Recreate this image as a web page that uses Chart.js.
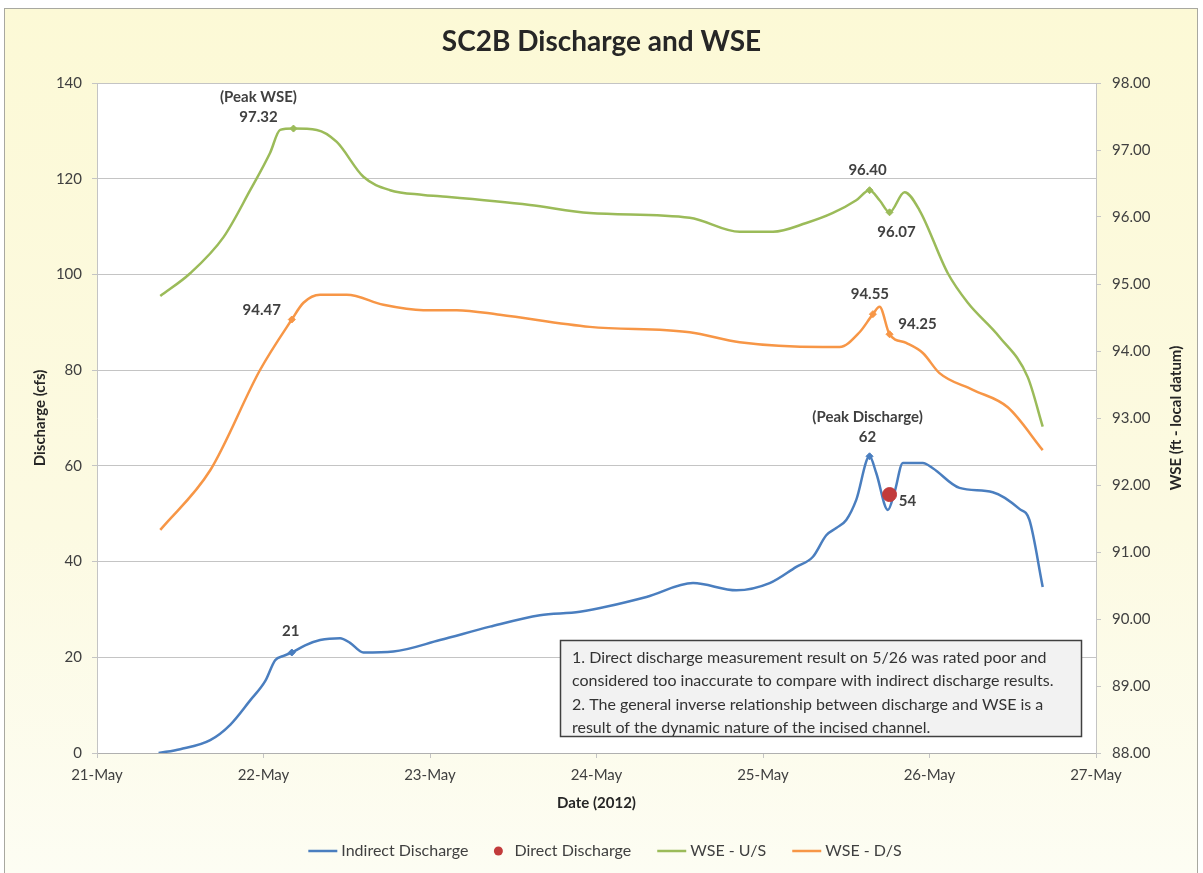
<!DOCTYPE html>
<html>
<head>
<meta charset="utf-8">
<title>SC2B Discharge and WSE</title>
<script src="https://cdn.jsdelivr.net/npm/chart.js@4.4.1/dist/chart.umd.min.js"></script>
<style>
  html, body { margin: 0; padding: 0; background: #ffffff; }
  canvas { display: block; }
</style>
</head>
<body>
<canvas id="chart" width="1203" height="873"></canvas>
<script>
// x values are days after 21-May-2012
const dayLabels = ["21-May", "22-May", "23-May", "24-May", "25-May", "26-May", "27-May"];

const indirectDays = [0.37, 0.50, 0.68, 0.80, 0.92, 1.01, 1.07, 1.12, 1.17, 1.25, 1.34, 1.46, 1.52, 1.60, 1.78,
  2.06, 2.36, 2.66, 2.90, 3.30, 3.58, 3.84, 4.04, 4.20, 4.30, 4.38, 4.44, 4.50, 4.56, 4.64, 4.68, 4.75, 4.79,
  4.84, 4.96, 5.02, 5.18, 5.38, 5.54, 5.60, 5.68];
const indirectCfs = [0, 0.8, 2.7, 5.9, 11, 15, 19.4, 20.3, 21, 22.5, 23.6, 24, 23, 21, 21.2,
  23.6, 26.4, 28.8, 29.5, 32.6, 35.5, 34, 35.5, 38.9, 41, 45.5, 47, 48.7, 52.9, 62, 58.5, 50.8, 54.5,
  60.6, 60.6, 59.5, 55.4, 54.5, 51, 48.7, 34.7];

const directDays = [4.76];
const directCfs = [54];

const wseUpDays = [0.38, 0.56, 0.76, 0.92, 1.04, 1.10, 1.18, 1.32, 1.44, 1.60, 1.76, 1.96, 2.06, 2.60, 2.96,
  3.56, 3.86, 4.06, 4.26, 4.42, 4.56, 4.64, 4.70, 4.76, 4.85, 4.94, 5.11, 5.23, 5.42, 5.59, 5.68];
const wseUpFt = [94.82, 95.16, 95.70, 96.40, 96.96, 97.30, 97.32, 97.30, 97.12, 96.60, 96.40, 96.33, 96.31, 96.18, 96.06,
  95.99, 95.78, 95.78, 95.91, 96.06, 96.25, 96.40, 96.25, 96.07, 96.37, 96.10, 95.16, 94.72, 94.21, 93.61, 92.87];

const wseDownDays = [0.38, 0.68, 0.98, 1.17, 1.24, 1.34, 1.50, 1.72, 1.96, 2.16, 2.42, 2.96, 3.56, 3.86, 4.36,
  4.46, 4.58, 4.66, 4.70, 4.76, 4.86, 4.96, 5.06, 5.26, 5.47, 5.68];
const wseDownFt = [91.33, 92.22, 93.72, 94.47, 94.72, 94.84, 94.84, 94.69, 94.61, 94.61, 94.54, 94.36, 94.28, 94.13, 94.06,
  94.06, 94.28, 94.55, 94.66, 94.25, 94.12, 93.97, 93.67, 93.42, 93.16, 92.52];

// labelled points
const indirectMarkDays = [1.17, 4.64];
const indirectMarkCfs = [21, 62];
const indirectMarkNotes = ["", "(Peak Discharge)"];
const wseUpMarkDays = [1.18, 4.64, 4.76];
const wseUpMarkFt = [97.32, 96.40, 96.07];
const wseUpMarkNotes = ["(Peak WSE)", "", ""];
const wseDownMarkDays = [1.17, 4.66, 4.76];
const wseDownMarkFt = [94.47, 94.55, 94.25];

const noteLines = [
  "1. Direct discharge measurement result on 5/26 was rated poor and",
  "considered too inaccurate to compare with indirect discharge results.",
  "2. The general inverse relationship between discharge and WSE is a",
  "result of the dynamic nature of the incised channel."
];

const FONT = "Lato, 'Open Sans', sans-serif";
const TEXT = "#404040";
const GRID = "#c4c4c4";
const BLUE = "#4a7ebf";
const RED = "#c23b3b";
const GREEN = "#9bbb59";
const ORANGE = "#f79646";

const pts = (xs, ys) => xs.map((x, i) => ({ x, y: ys[i] }));

// label offsets from each labelled point, in px: [dx, dy] for value, caption sits one line above
const markOffsets = {
  4: [[-1, -21], [-2, -19]],
  5: [[-35, -11], [-2, -20], [7, 20]],
  6: [[-30, -9], [-3, -20], [28, -10]],
  1: [[18, 7]]
};

const backgroundPlugin = {
  id: "frame",
  beforeDraw(chart) {
    const { ctx, chartArea: a } = chart;
    ctx.save();
    const g = ctx.createLinearGradient(0, 8, 0, 873);
    g.addColorStop(0, "#fcf9d6");
    g.addColorStop(0.6, "#fcfae2");
    g.addColorStop(1, "#fdfdf3");
    ctx.fillStyle = g;
    ctx.fillRect(4, 8, 1194, 865);
    ctx.strokeStyle = "#a8a8a0";
    ctx.lineWidth = 1;
    ctx.strokeRect(4.5, 8.5, 1193, 866);
    ctx.fillStyle = "#ffffff";
    ctx.fillRect(a.left, a.top, a.right - a.left, a.bottom - a.top);
    ctx.restore();
  }
};

const labelsPlugin = {
  id: "markLabels",
  afterDatasetsDraw(chart) {
    const { ctx } = chart;
    ctx.save();
    ctx.font = "bold 15px " + FONT;
    ctx.fillStyle = TEXT;
    ctx.textAlign = "center";
    ctx.textBaseline = "middle";
    Object.keys(markOffsets).forEach((k) => {
      const idx = Number(k);
      const ds = chart.data.datasets[idx];
      const meta = chart.getDatasetMeta(idx);
      meta.data.forEach((el, i) => {
        const [dx, dy] = markOffsets[k][i];
        const v = ds.data[i].y;
        const text = ds.yAxisID === "y2" ? v.toFixed(2) : String(v);
        ctx.fillText(text, el.x + dx, el.y + dy);
        const note = ds.notes ? ds.notes[i] : "";
        if (note) ctx.fillText(note, el.x + dx, el.y + dy - 20);
      });
    });
    ctx.restore();
  },
  afterDraw(chart) {
    const { ctx, chartArea: a } = chart;
    ctx.save();

    // right axis title reads bottom to top
    ctx.font = "bold 15px " + FONT;
    ctx.fillStyle = "#262626";
    ctx.textAlign = "center";
    ctx.textBaseline = "middle";
    ctx.translate(1176, (a.top + a.bottom) / 2);
    ctx.rotate(-Math.PI / 2);
    ctx.fillText("WSE (ft - local datum)", 0, 0);
    ctx.setTransform(1, 0, 0, 1, 0, 0);

    // note box
    ctx.fillStyle = "#f2f2f2";
    ctx.fillRect(560, 640, 522, 97);
    ctx.strokeStyle = "#404040";
    ctx.lineWidth = 1.5;
    ctx.strokeRect(560.5, 640.5, 521, 96);
    ctx.font = "16px " + FONT;
    ctx.fillStyle = "#333333";
    ctx.textAlign = "left";
    noteLines.forEach((t, i) => ctx.fillText(t, 572, 658 + i * 23.3));

    // legend
    const items = chart.data.datasets.slice(0, 4).map((ds) => ({
      text: ds.label, color: ds.borderColor || ds.backgroundColor, dot: ds.showLine === false
    }));
    ctx.font = "16px " + FONT;
    const widths = items.map((it) => (it.dot ? 20 : 33) + ctx.measureText(it.text).width);
    const gap = 26;
    const total = widths.reduce((s, w) => s + w, 0) + gap * (items.length - 1);
    let x = 605 - total / 2;
    const y = 851;
    items.forEach((it, i) => {
      if (it.dot) {
        ctx.fillStyle = RED;
        ctx.beginPath();
        ctx.arc(x + 4, y, 4.5, 0, Math.PI * 2);
        ctx.fill();
        ctx.fillStyle = TEXT;
        ctx.fillText(it.text, x + 20, y);
      } else {
        ctx.strokeStyle = it.color;
        ctx.lineWidth = 2.5;
        ctx.beginPath();
        ctx.moveTo(x, y);
        ctx.lineTo(x + 29, y);
        ctx.stroke();
        ctx.fillStyle = TEXT;
        ctx.fillText(it.text, x + 33, y);
      }
      x += widths[i] + gap;
    });
    ctx.restore();
  }
};

const lineStyle = (color) => ({
  borderColor: color,
  backgroundColor: color,
  borderWidth: 2.5,
  pointRadius: 0,
  cubicInterpolationMode: "monotone",
  fill: false
});

const markStyle = (color) => ({
  type: "scatter",
  showLine: false,
  pointStyle: "rectRot",
  pointRadius: 3.5,
  backgroundColor: color,
  borderColor: color
});

new Chart(document.getElementById("chart"), {
  type: "line",
  plugins: [backgroundPlugin, labelsPlugin],
  data: {
    datasets: [
      { label: "Indirect Discharge", data: pts(indirectDays, indirectCfs), yAxisID: "y", order: 2, ...lineStyle(BLUE) },
      {
        label: "Direct Discharge", type: "scatter", data: pts(directDays, directCfs), yAxisID: "y", order: 0,
        showLine: false, pointRadius: 7, backgroundColor: RED, borderColor: RED
      },
      { label: "WSE - U/S", data: pts(wseUpDays, wseUpFt), yAxisID: "y2", order: 3, ...lineStyle(GREEN) },
      { label: "WSE - D/S", data: pts(wseDownDays, wseDownFt), yAxisID: "y2", order: 4, ...lineStyle(ORANGE) },
      { label: "", data: pts(indirectMarkDays, indirectMarkCfs), yAxisID: "y", order: 1, notes: indirectMarkNotes, ...markStyle(BLUE) },
      { label: "", data: pts(wseUpMarkDays, wseUpMarkFt), yAxisID: "y2", order: 1, notes: wseUpMarkNotes, ...markStyle(GREEN) },
      { label: "", data: pts(wseDownMarkDays, wseDownMarkFt), yAxisID: "y2", order: 1, ...markStyle(ORANGE) }
    ]
  },
  options: {
    responsive: false,
    animation: false,
    layout: { padding: { top: 8, left: 0, right: 0, bottom: 0 } },
    plugins: {
      legend: { display: false },
      tooltip: { enabled: false },
      title: {
        display: true,
        text: "SC2B Discharge and WSE",
        color: "#262626",
        font: { family: FONT, size: 28, weight: "bold" },
        padding: { top: 17, bottom: 24.4 }
      }
    },
    scales: {
      x: {
        type: "linear",
        min: 0,
        max: 6,
        afterFit: (s) => { s.height = 120; },
        ticks: {
          stepSize: 1,
          maxRotation: 0,
          padding: 8,
          color: TEXT,
          font: { family: FONT, size: 15 },
          callback: (v) => dayLabels[v]
        },
        grid: { drawOnChartArea: false, tickLength: 5, color: GRID },
        border: { color: "#b0b0b0" },
        title: {
          display: true,
          text: "Date (2012)",
          color: "#262626",
          font: { family: FONT, size: 15, weight: "bold" },
          padding: { top: 0, bottom: 61 }
        }
      },
      y: {
        position: "left",
        min: 0,
        max: 140,
        afterFit: (s) => { s.width = 97; },
        ticks: { stepSize: 20, padding: 10, color: TEXT, font: { family: FONT, size: 15 } },
        grid: { color: GRID, tickLength: 5 },
        border: { color: GRID },
        title: {
          display: true,
          text: "Discharge (cfs)",
          color: "#262626",
          font: { family: FONT, size: 15, weight: "bold" },
          padding: { top: 31, bottom: 0 }
        }
      },
      y2: {
        position: "right",
        min: 88,
        max: 98,
        afterFit: (s) => { s.width = 107; },
        ticks: {
          stepSize: 1,
          padding: 11,
          color: TEXT,
          font: { family: FONT, size: 15 },
          callback: (v) => v.toFixed(2)
        },
        grid: { drawOnChartArea: false, tickLength: 5, color: GRID },
        border: { color: GRID }
      }
    }
  }
});
</script>
</body>
</html>
